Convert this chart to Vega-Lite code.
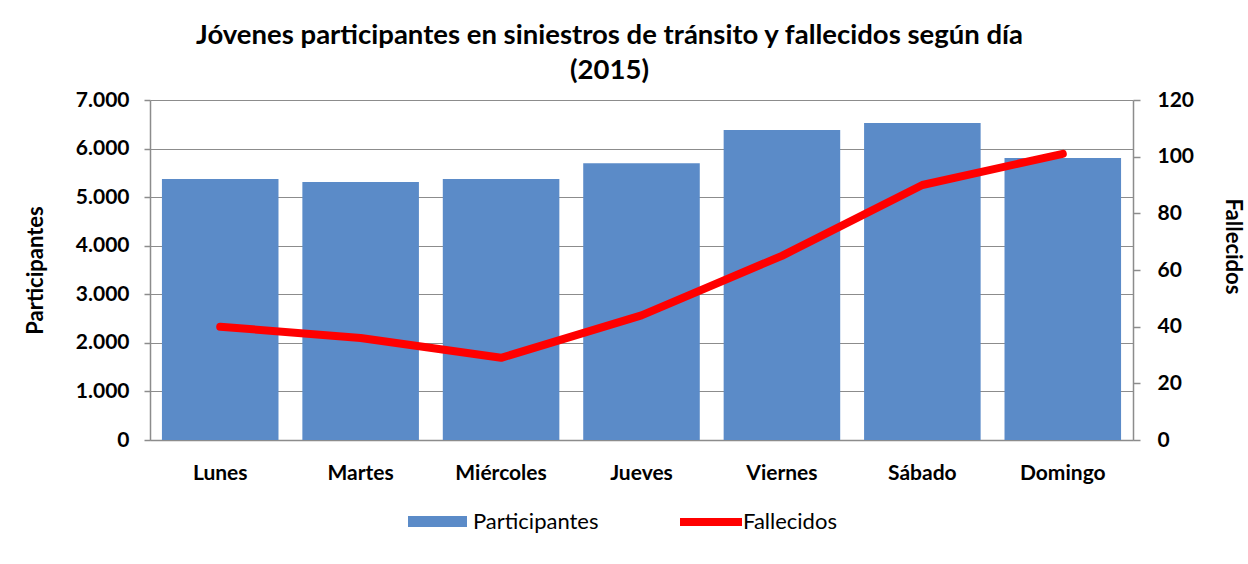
{
  "$schema": "https://vega.github.io/schema/vega-lite/v6.json",
  "width": 983,
  "height": 340,
  "autosize": {"type": "none"},
  "padding": {"left": 150, "top": 100, "right": 115, "bottom": 124},
  "background": "white",
  "config": {
    "font": "Lato",
    "view": {"stroke": null},
    "axis": {
      "labelFont": "Lato",
      "labelFontWeight": "bold",
      "labelFontSize": 21,
      "labelColor": "black",
      "titleFont": "Lato",
      "titleFontWeight": "bold",
      "titleFontSize": 22,
      "titleColor": "black",
      "domainColor": "#8c8c8c",
      "tickColor": "#8c8c8c",
      "gridColor": "#8c8c8c",
      "domainWidth": 1.5,
      "tickWidth": 1.5,
      "gridWidth": 1.2
    },
    "legend": {
      "labelFont": "Lato",
      "labelFontSize": 22,
      "labelColor": "black",
      "padding": 0
    }
  },
  "title": {
    "text": ["Jóvenes participantes  en siniestros de tránsito y fallecidos  según día", "(2015)"],
    "font": "Lato",
    "fontSize": 27.5,
    "fontWeight": "bold",
    "color": "black",
    "anchor": "middle",
    "dx": -32,
    "offset": 5,
    "lineHeight": 35
  },
  "data": {
    "values": [
      {"dia": "Lunes", "participantes": 5375, "fallecidos": 40},
      {"dia": "Martes", "participantes": 5310, "fallecidos": 36},
      {"dia": "Miércoles", "participantes": 5375, "fallecidos": 29},
      {"dia": "Jueves", "participantes": 5700, "fallecidos": 44},
      {"dia": "Viernes", "participantes": 6380, "fallecidos": 65},
      {"dia": "Sábado", "participantes": 6525, "fallecidos": 90},
      {"dia": "Domingo", "participantes": 5805, "fallecidos": 101}
    ]
  },
  "layer": [
    {
      "mark": {"type": "bar", "fill": "#5B8BC8"},
      "encoding": {
        "x": {
          "field": "dia",
          "type": "nominal",
          "sort": null,
          "scale": {"paddingInner": 0.17, "paddingOuter": 0.085},
          "axis": {"title": null, "labelAngle": 0, "ticks": false, "labelPadding": 22, "grid": false}
        },
        "y": {
          "field": "participantes",
          "type": "quantitative",
          "scale": {"domain": [0, 7000], "nice": false},
          "axis": {
            "title": "Participantes",
            "values": [0, 1000, 2000, 3000, 4000, 5000, 6000, 7000],
            "labelExpr": "replace(format(datum.value, ','), ',', '.')",
            "grid": true,
            "tickSize": 6,
            "labelPadding": 15,
            "titleX": -115,
            "titleY": 170,
            "titleAlign": "center",
            "titleBaseline": "middle"
          }
        },
        "color": {
          "datum": "Participantes",
          "scale": {"range": ["#5B8BC8"]},
          "legend": {
            "title": null,
            "orient": "none",
            "legendX": 258,
            "legendY": 392,
            "symbolType": "M-1,-0.19H1V0.19H-1Z",
            "symbolSize": 3481,
            "symbolStrokeWidth": 0,
            "labelOffset": 6
          }
        }
      }
    },
    {
      "mark": {"type": "line", "strokeWidth": 8, "strokeCap": "round", "strokeJoin": "round"},
      "encoding": {
        "x": {"field": "dia", "type": "nominal", "sort": null},
        "y": {
          "field": "fallecidos",
          "type": "quantitative",
          "scale": {"domain": [0, 120], "nice": false},
          "axis": {
            "orient": "right",
            "title": "Fallecidos",
            "values": [0, 20, 40, 60, 80, 100, 120],
            "grid": false,
            "tickSize": 7,
            "labelPadding": 17,
            "titleX": 99,
            "titleY": 146,
            "titleAngle": 90,
            "titleAlign": "center",
            "titleBaseline": "middle"
          }
        },
        "stroke": {
          "datum": "Fallecidos",
          "scale": {"range": ["#FF0000"]},
          "legend": {
            "title": null,
            "orient": "none",
            "legendX": 526,
            "legendY": 387,
            "symbolType": "stroke",
            "symbolSize": 3844,
            "symbolStrokeWidth": 8,
            "labelOffset": -3
          }
        }
      }
    }
  ],
  "resolve": {"scale": {"y": "independent"}}
}
